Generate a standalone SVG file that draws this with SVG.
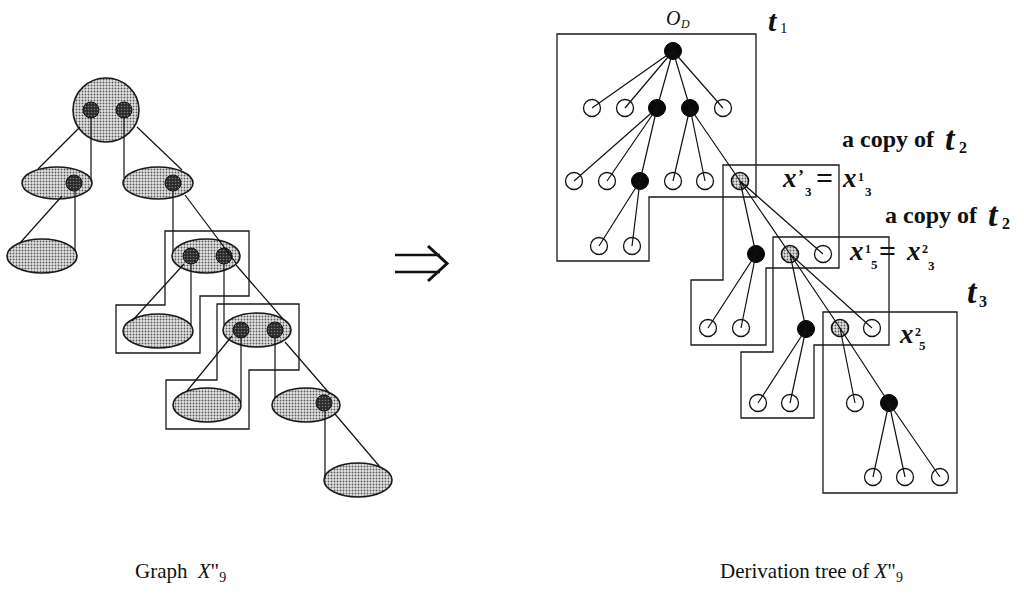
<svg xmlns="http://www.w3.org/2000/svg" width="1024" height="604" viewBox="0 0 1024 604">
  <defs>
    <!-- stippled fill used for the graph blobs and the shared tree nodes -->
    <pattern id="stip" width="3" height="3" patternUnits="userSpaceOnUse">
      <rect width="3" height="3" fill="#e4e4e4"/>
      <circle cx="1.5" cy="1.5" r="0.95" fill="#5a5a5a"/>
    </pattern>
    <pattern id="stipDark" width="3" height="3" patternUnits="userSpaceOnUse">
      <rect width="3" height="3" fill="#2a2a2a"/>
      <circle cx="1.5" cy="1.5" r="0.8" fill="#777"/>
    </pattern>
    <style>
      .blob { fill: url(#stip); stroke: #1a1a1a; stroke-width: 1.6; }
      .dot { fill: url(#stipDark); stroke: #111; stroke-width: 1; }
      .box { fill: none; stroke: #1a1a1a; stroke-width: 1.3; }
      .edge { stroke: #111; stroke-width: 1.2; fill: none; }
      .hol { fill: none; stroke: #111; stroke-width: 1.3; }
      .blk { fill: #0a0a0a; stroke: #000; stroke-width: 1; }
      .gry { fill: url(#stip); stroke: #111; stroke-width: 1.6; }
      .lbl { font-family: "Liberation Serif", "Times New Roman", serif; fill: #111; }
      .mi { font-style: italic; font-weight: bold; }
      .bd { font-weight: bold; }
    </style>
  </defs>
  <rect width="1024" height="604" fill="#fff"/>

  <!-- ============ left: graph X''9 ============ -->
  <g id="graph-boxes">
    <path class="box" d="M165,231 H249 V296 H200 V353 H116 V305 H165 Z"/>
    <path class="box" d="M217,304 H299 V370 H249 V429 H166 V380 H217 Z"/>
  </g>

  <g id="g0"><ellipse class="blob" cx="106" cy="110" rx="33" ry="32"/><circle class="dot" cx="91" cy="110" r="8"/><circle class="dot" cx="124" cy="110" r="8"/></g>
  <g id="g1"><ellipse class="blob" cx="57" cy="183" rx="35" ry="16"/><circle class="dot" cx="74" cy="183" r="8"/></g>
  <g id="g2"><ellipse class="blob" cx="158" cy="183" rx="35" ry="16"/><circle class="dot" cx="173" cy="183" r="8"/></g>
  <g id="g3"><ellipse class="blob" cx="42" cy="256" rx="35" ry="17"/></g>
  <g id="g4"><ellipse class="blob" cx="206" cy="256" rx="34" ry="17"/><circle class="dot" cx="191" cy="256" r="8"/><circle class="dot" cx="224" cy="256" r="8"/></g>
  <g id="g5"><ellipse class="blob" cx="158" cy="331" rx="35" ry="17"/></g>
  <g id="g6"><ellipse class="blob" cx="257" cy="330" rx="34" ry="17"/><circle class="dot" cx="241" cy="330" r="8"/><circle class="dot" cx="275" cy="330" r="8"/></g>
  <g id="g7"><ellipse class="blob" cx="207" cy="405" rx="34" ry="17"/></g>
  <g id="g8"><ellipse class="blob" cx="306" cy="405" rx="34" ry="17"/><circle class="dot" cx="324" cy="403" r="8"/></g>
  <g id="g9"><ellipse class="blob" cx="358" cy="480" rx="34" ry="17"/></g>

  <g id="graph-edges" class="edge">
    <line x1="80" y1="127" x2="38" y2="169"/>
    <line x1="91" y1="118" x2="91" y2="181"/>
    <line x1="124" y1="118" x2="124" y2="178"/>
    <line x1="137" y1="127" x2="182" y2="170"/>
    <line x1="62" y1="196" x2="20" y2="243"/>
    <line x1="75" y1="191" x2="75" y2="251"/>
    <line x1="173" y1="191" x2="173" y2="252"/>
    <line x1="185" y1="195" x2="236" y2="263"/>
    <line x1="184" y1="264" x2="132" y2="321"/>
    <line x1="191" y1="264" x2="191" y2="325"/>
    <line x1="224" y1="264" x2="224" y2="325"/>
    <line x1="236" y1="265" x2="283" y2="319"/>
    <line x1="232" y1="336" x2="187" y2="391"/>
    <line x1="241" y1="338" x2="241" y2="403"/>
    <line x1="275" y1="338" x2="275" y2="398"/>
    <line x1="285" y1="342" x2="330" y2="394"/>
    <line x1="325" y1="411" x2="325" y2="478"/>
    <line x1="335" y1="414" x2="380" y2="467"/>
  </g>

  <!-- derivation arrow -->
  <g id="arrow" stroke="#111" fill="none">
    <line x1="395" y1="255" x2="440" y2="255" stroke-width="2.4"/>
    <line x1="395" y1="272" x2="440" y2="272" stroke-width="2.4"/>
    <polyline points="428,246 447,263.5 428,281" stroke-width="3" stroke-linejoin="miter"/>
  </g>

  <!-- ============ right: derivation tree ============ -->
  <g id="tree-boxes">
    <path id="box-t1" class="box" d="M557,34 H756 V197 H649 V261 H557 Z"/>
    <path id="box-t2a" class="box" d="M723,165 H839 V268 H766 V345 H691 V280 H723 Z"/>
    <path id="box-t2b" class="box" d="M773,237 H889 V345 H814 V418 H741 V352 H773 Z"/>
    <path id="box-t3" class="box" d="M823,312 H957 V493 H823 Z"/>
  </g>

  <g id="tree-nodes">
    <g id="r0"><circle class="blk" cx="673" cy="51" r="8.5"/></g>
    <g id="a1"><circle class="hol" cx="592" cy="108" r="8.5"/></g>
    <g id="a2"><circle class="hol" cx="625" cy="108" r="8.5"/></g>
    <g id="a3"><circle class="blk" cx="657" cy="108" r="8.5"/></g>
    <g id="a4"><circle class="blk" cx="690" cy="108" r="8.5"/></g>
    <g id="a5"><circle class="hol" cx="723" cy="108" r="8.5"/></g>
    <g id="b1"><circle class="hol" cx="574" cy="181" r="8.5"/></g>
    <g id="b2"><circle class="hol" cx="607" cy="181" r="8.5"/></g>
    <g id="b3"><circle class="blk" cx="640" cy="181" r="8.5"/></g>
    <g id="b4"><circle class="hol" cx="673" cy="181" r="8.5"/></g>
    <g id="b5"><circle class="hol" cx="705" cy="181" r="8.5"/></g>
    <g id="b6"><circle class="gry" cx="740" cy="181" r="8.5"/></g>
    <g id="c1"><circle class="hol" cx="599" cy="246" r="8.5"/></g>
    <g id="c2"><circle class="hol" cx="632" cy="246" r="8.5"/></g>
    <g id="d1"><circle class="blk" cx="756" cy="254" r="8.5"/></g>
    <g id="d2"><circle class="gry" cx="790" cy="254" r="8.5"/></g>
    <g id="d3"><circle class="hol" cx="823" cy="254" r="8.5"/></g>
    <g id="e1"><circle class="hol" cx="708" cy="328" r="8.5"/></g>
    <g id="e2"><circle class="hol" cx="741" cy="328" r="8.5"/></g>
    <g id="e3"><circle class="blk" cx="806" cy="329" r="8.5"/></g>
    <g id="e4"><circle class="gry" cx="840" cy="328" r="8.5"/></g>
    <g id="e5"><circle class="hol" cx="872" cy="328" r="8.5"/></g>
    <g id="f1"><circle class="hol" cx="758" cy="403" r="8.5"/></g>
    <g id="f2"><circle class="hol" cx="790" cy="403" r="8.5"/></g>
    <g id="f3"><circle class="hol" cx="855" cy="403" r="8.5"/></g>
    <g id="f4"><circle class="blk" cx="889" cy="403" r="8.5"/></g>
    <g id="g1n"><circle class="hol" cx="873" cy="477" r="8.5"/></g>
    <g id="g2n"><circle class="hol" cx="905" cy="477" r="8.5"/></g>
    <g id="g3n"><circle class="hol" cx="940" cy="477" r="8.5"/></g>
  </g>

  <g id="tree-edges" class="edge">
    <path d="M673,51 L592,108 M673,51 L625,108 M673,51 L657,108 M673,51 L690,108 M673,51 L723,108"/>
    <path d="M657,108 L574,181 M657,108 L607,181 M657,108 L640,181"/>
    <path d="M690,108 L673,181 M690,108 L705,181 M690,108 L740,181"/>
    <path d="M640,181 L599,246 M640,181 L632,246"/>
    <path d="M740,181 L756,254 M740,181 L790,254 M740,181 L823,254"/>
    <path d="M756,254 L708,328 M756,254 L741,328"/>
    <path d="M790,254 L806,329 M790,254 L840,328 M790,254 L872,328"/>
    <path d="M806,329 L758,403 M806,329 L790,403"/>
    <path d="M840,328 L855,403 M840,328 L889,403"/>
    <path d="M889,403 L873,477 M889,403 L905,477 M889,403 L940,477"/>
  </g>

  <!-- ============ labels ============ -->
  <g id="labels" class="lbl">
    <text x="666" y="25" font-size="20" font-style="italic">O<tspan x="681" y="28" font-size="12">D</tspan></text>
    <text x="768" y="31" font-size="30" class="mi">t<tspan x="780" y="33" font-size="15" font-style="normal" font-weight="normal">1</tspan></text>

    <text x="842" y="147" font-size="24" class="bd">a copy of</text>
    <text x="945" y="150" font-size="34" class="mi">t<tspan x="959" y="153" font-size="16" font-style="normal">2</tspan></text>

    <text x="783" y="187" font-size="27" class="mi">x</text>
    <text x="798" y="183" font-size="18" class="bd">’</text>
    <text x="805" y="196" font-size="13" class="bd">3</text>
    <text x="816" y="188" font-size="30" class="bd">=</text>
    <text x="843" y="187" font-size="27" class="mi">x</text>
    <text x="858" y="181" font-size="12" class="bd">1</text>
    <text x="865" y="196" font-size="13" class="bd">3</text>

    <text x="885" y="223" font-size="24" class="bd">a copy of</text>
    <text x="988" y="226" font-size="34" class="mi">t<tspan x="1002" y="229" font-size="16" font-style="normal">2</tspan></text>

    <text x="850" y="260" font-size="27" class="mi">x</text>
    <text x="865" y="253" font-size="12" class="bd">1</text>
    <text x="871" y="269" font-size="13" class="bd">5</text>
    <text x="879" y="261" font-size="30" class="bd">=</text>
    <text x="907" y="260" font-size="27" class="mi">x</text>
    <text x="922" y="253" font-size="12" class="bd">2</text>
    <text x="928" y="270" font-size="13" class="bd">3</text>

    <text x="967" y="303" font-size="34" class="mi">t<tspan x="979" y="307" font-size="16" font-style="normal">3</tspan></text>

    <text x="900" y="343" font-size="27" class="mi">x</text>
    <text x="915" y="336" font-size="12" class="bd">2</text>
    <text x="919" y="350" font-size="13" class="bd">5</text>

    <text x="135" y="578" font-size="21">Graph <tspan dx="5" font-style="italic">X</tspan>"<tspan font-size="14" dy="4">9</tspan></text>
    <text x="720" y="578" font-size="21">Derivation tree of <tspan font-style="italic">X</tspan>"<tspan font-size="14" dy="4">9</tspan></text>
  </g>
</svg>
